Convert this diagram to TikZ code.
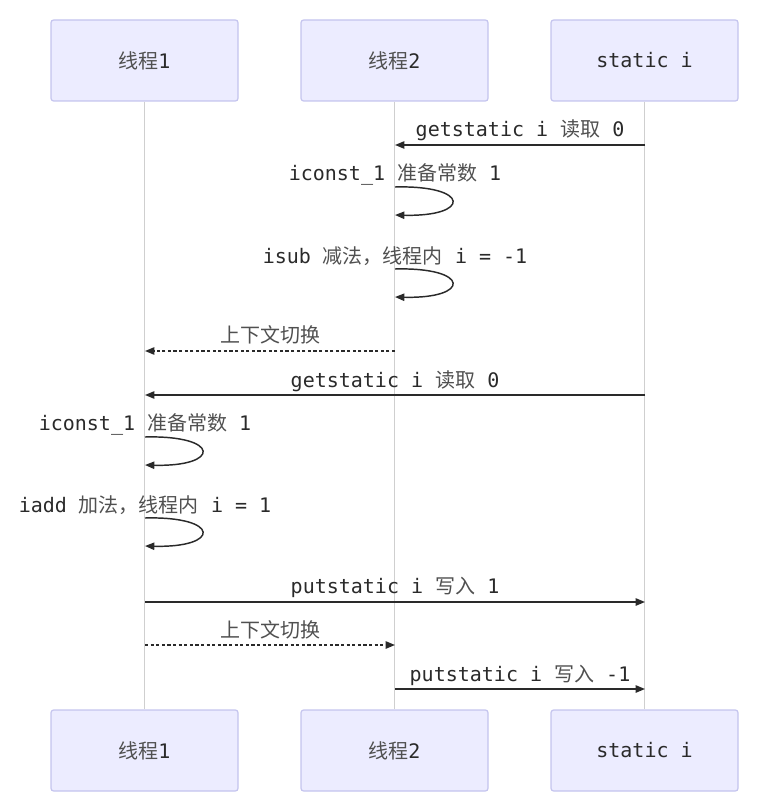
\documentclass[tikz,border=0pt]{standalone}
\usepackage{fontspec}
\setmainfont{DejaVu Sans Mono}
\newfontfamily\cjk{Noto Sans CJK SC}
\usetikzlibrary{arrows.meta}
\definecolor{txt}{HTML}{2A2A2A}
\definecolor{zhc}{HTML}{505050}
\definecolor{boxfill}{HTML}{ECECFF}
\definecolor{boxline}{HTML}{C4C4EE}
\definecolor{lifeline}{HTML}{CFCFCF}
\newcommand{\zh}[1]{{\cjk\color{zhc}#1}}
\tikzset{
  actor/.style={draw=boxline, fill=boxfill, line width=0.9pt, rounded corners=2pt,
    minimum width=140.25pt, minimum height=60.75pt, inner sep=0pt, text=txt, font=\fontsize{15pt}{17pt}\selectfont},
  msg/.style={draw=txt, line width=1.1pt, -{Triangle[length=7pt,width=5.5pt]}},
  dmsg/.style={msg, dash pattern=on 2.4pt off 1.8pt},
  lbl/.style={text=txt, inner sep=0pt, font=\fontsize{15pt}{17pt}\selectfont},
  life/.style={draw=lifeline, line width=0.8pt}
}
\begin{document}
\begin{tikzpicture}[x=0.75pt, y=-0.75pt]
\useasboundingbox (0,0) rectangle (767,805);
% actors
\node[actor] (t1) at (144.5,60.5) {\zh{线程}1};
\node[actor] (t2) at (394.5,60.5) {\zh{线程}2};
\node[actor] (si) at (644.5,60.5) {static i};
\node[actor] (t1b) at (144.5,750.5) {\zh{线程}1};
\node[actor] (t2b) at (394.5,750.5) {\zh{线程}2};
\node[actor] (sib) at (644.5,750.5) {static i};
% lifelines
\draw[life] (t1) -- (t1b);
\draw[life] (t2) -- (t2b);
\draw[life] (si) -- (sib);
% message points
\coordinate (a1) at (645,145); \coordinate (b1) at (395,145);
\coordinate (a2) at (395,187); \coordinate (b2) at (395,215);
\coordinate (a3) at (395,269); \coordinate (b3) at (395,297);
\coordinate (a4) at (395,351); \coordinate (b4) at (145,351);
\coordinate (a5) at (645,395); \coordinate (b5) at (145,395);
\coordinate (a6) at (145,437); \coordinate (b6) at (145,465);
\coordinate (a7) at (145,518); \coordinate (b7) at (145,546);
\coordinate (a8) at (145,602); \coordinate (b8) at (645,602);
\coordinate (a9) at (145,645); \coordinate (b9) at (395,645);
\coordinate (a10) at (395,689); \coordinate (b10) at (645,689);
% messages
\draw[msg] (a1) -- (b1);
\node[lbl] (l1) at (520,130) {getstatic i \zh{读取} 0};
\draw[msg] (a2) .. controls (471,185) and (471,217) .. (b2);
\node[lbl] (l2) at (395,174) {iconst\_1 \zh{准备常数} 1};
\draw[msg] (a3) .. controls (471,267) and (471,299) .. (b3);
\node[lbl] (l3) at (395,256) {isub \zh{减法，线程内} i = -1};
\draw[dmsg] (a4) -- (b4);
\node[lbl] (l4) at (270,335) {\zh{上下文切换}};
\draw[msg] (a5) -- (b5);
\node[lbl] (l5) at (395,381) {getstatic i \zh{读取} 0};
\draw[msg] (a6) .. controls (221,435) and (221,467) .. (b6);
\node[lbl] (l6) at (145,424) {iconst\_1 \zh{准备常数} 1};
\draw[msg] (a7) .. controls (221,516) and (221,548) .. (b7);
\node[lbl] (l7) at (145,505) {iadd \zh{加法，线程内} i = 1};
\draw[msg] (a8) -- (b8);
\node[lbl] (l8) at (395,587) {putstatic i \zh{写入} 1};
\draw[dmsg] (a9) -- (b9);
\node[lbl] (l9) at (270,630) {\zh{上下文切换}};
\draw[msg] (a10) -- (b10);
\node[lbl] (l10) at (520,675) {putstatic i \zh{写入} -1};
\end{tikzpicture}
\end{document}
